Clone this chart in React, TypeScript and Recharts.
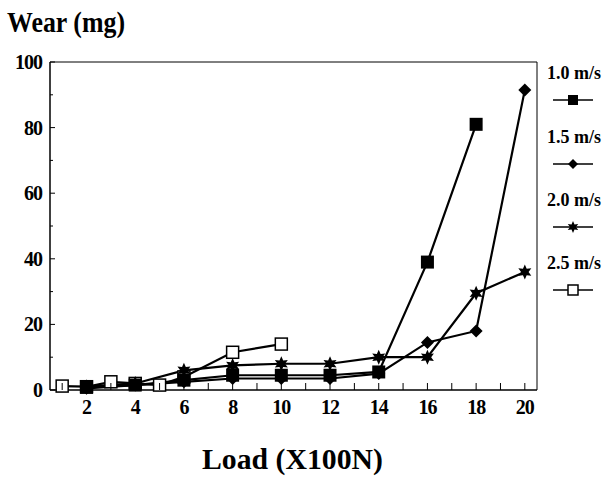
import React from 'react';
import { LineChart, Line, XAxis, YAxis, ReferenceLine } from 'recharts';

const speeds = ['1.0 m/s', '1.5 m/s', '2.0 m/s', '2.5 m/s'];
const loads = [2, 4, 6, 8, 10, 12, 14, 16, 18, 20];
const wear10 = [0.8, 1.5, 3, 4.5, 4.5, 4.5, 5.5, 39, 81];
const wear15 = [0.5, 1.5, 2.5, 3.5, 3.5, 3.5, 5, 14.5, 18, 91.5];
const wear20 = [1, 2, 6, 7.5, 8, 8, 10, 10, 29.5, 36];
const loads25 = [1, 2, 3, 4, 5, 6, 8, 10];
const wear25 = [1.2, 1, 2.5, 2, 1.5, 4, 11.5, 14];
const xTicks = [1, 2, 3, 4, 5, 6, 7, 8, 9, 10, 11, 12, 13, 14, 15, 16, 17, 18, 19, 20];
const xLabels = [2, 4, 6, 8, 10, 12, 14, 16, 18, 20];
const yTicks = [0, 10, 20, 30, 40, 50, 60, 70, 80, 90, 100];
const yLabels = [0, 20, 40, 60, 80, 100];

const toRows = (xs: number[], ys: number[]) => ys.map((y, i) => ({ load: xs[i], wear: y }));

const FONT = "'Liberation Serif', 'Times New Roman', 'DejaVu Serif', serif";

const FilledSquare = ({ cx, cy, s = 6.5 }: any) => (
  <rect x={cx - s} y={cy - s} width={2 * s} height={2 * s} fill="#000" />
);
const Diamond = ({ cx, cy, s = 6.5 }: any) => (
  <polygon points={`${cx},${cy - s} ${cx + s},${cy} ${cx},${cy + s} ${cx - s},${cy}`} fill="#000" />
);
const Star = ({ cx, cy, s = 7.5 }: any) => {
  const pts: string[] = [];
  for (let i = 0; i < 12; i++) {
    const r = i % 2 === 0 ? s : s * 0.5;
    const a = (Math.PI / 6) * i - Math.PI / 2;
    pts.push(`${cx + r * Math.cos(a)},${cy + r * Math.sin(a)}`);
  }
  return <polygon points={pts.join(' ')} fill="#000" />;
};
const OpenSquare = ({ cx, cy, s = 6 }: any) => (
  <rect x={cx - s} y={cy - s} width={2 * s} height={2 * s} fill="#fff" stroke="#000" strokeWidth={1.5} />
);

const markers = [FilledSquare, Diamond, Star, OpenSquare];

const dotFor = (M: any) => (p: any) => <M key={`d-${p.index}`} cx={p.cx} cy={p.cy} />;

const XTick = (props: any) => {
  const { x, y, payload } = props;
  const v = payload.value;
  return (
    <g>
      <line x1={x} y1={y} x2={x} y2={y - 7} stroke="#000" strokeWidth={1} />
      {xLabels.includes(v) && (
        <text x={x} y={y + 24} textAnchor="middle" fontFamily={FONT} fontWeight="bold" fontSize={20} fill="#000" letterSpacing={-1}>
          {v}
        </text>
      )}
    </g>
  );
};

const YTick = (props: any) => {
  const { x, y, payload } = props;
  const v = payload.value;
  const major = yLabels.includes(v);
  return (
    <g>
      <line x1={x} y1={y} x2={x + (major ? 5 : 3)} y2={y} stroke="#000" strokeWidth={1} />
      {major && (
        <text x={x - 8} y={y + 7} textAnchor="end" fontFamily={FONT} fontWeight="bold" fontSize={20} fill="#000" letterSpacing={-1}>
          {v}
        </text>
      )}
    </g>
  );
};

const legendTextY = [79, 143, 206, 269];
const legendMarkY = [100, 164, 227, 290];

export default function App() {
  return (
    <div style={{ position: 'absolute', left: 0, top: 0, width: 608, height: 483, background: '#fff' }}>
      <LineChart
        width={608}
        height={483}
        margin={{ top: 62, right: 71, left: 0, bottom: 0 }}
      >
        <XAxis
          type="number"
          dataKey="load"
          domain={[0.5, 20.5]}
          ticks={xTicks}
          interval={0}
          allowDataOverflow
          height={93}
          tickSize={0}
          tickMargin={0}
          tickLine={false}
          axisLine={{ stroke: '#000', strokeWidth: 1.5 }}
          tick={<XTick />}
        />
        <YAxis
          type="number"
          dataKey="wear"
          domain={[0, 100]}
          ticks={yTicks}
          interval={0}
          width={50}
          tickSize={0}
          tickMargin={0}
          tickLine={false}
          axisLine={{ stroke: '#000', strokeWidth: 1.5 }}
          tick={<YTick />}
        />
        <ReferenceLine y={100} stroke="#000" strokeWidth={1} />
        <ReferenceLine x={20.5} stroke="#000" strokeWidth={1} />
        <Line data={toRows(loads25, wear25)} dataKey="wear" name={speeds[3]} stroke="#000" strokeWidth={2.2} dot={dotFor(OpenSquare)} isAnimationActive={false} />
        <Line data={toRows(loads, wear20)} dataKey="wear" name={speeds[2]} stroke="#000" strokeWidth={2.2} dot={dotFor(Star)} isAnimationActive={false} />
        <Line data={toRows(loads, wear15)} dataKey="wear" name={speeds[1]} stroke="#000" strokeWidth={2.2} dot={dotFor(Diamond)} isAnimationActive={false} />
        <Line data={toRows(loads, wear10)} dataKey="wear" name={speeds[0]} stroke="#000" strokeWidth={2.2} dot={dotFor(FilledSquare)} isAnimationActive={false} />
      </LineChart>
      <svg width={608} height={483} style={{ position: 'absolute', left: 0, top: 0, pointerEvents: 'none' }}>
        <text x={7} y={32} fontFamily={FONT} fontWeight="bold" fontSize={29} fill="#000" textLength={118} lengthAdjust="spacingAndGlyphs">
          Wear (mg)
        </text>
        <text x={202} y={469} fontFamily={FONT} fontWeight="bold" fontSize={30} fill="#000" textLength={181} lengthAdjust="spacingAndGlyphs">
          Load (X100N)
        </text>
        {speeds.map((s, i) => {
          const M = markers[i];
          return (
            <g key={s}>
              <text x={547} y={legendTextY[i]} fontFamily={FONT} fontWeight="bold" fontSize={18} fill="#000" textLength={54} lengthAdjust="spacingAndGlyphs">
                {s}
              </text>
              <line x1={553} y1={legendMarkY[i]} x2={593} y2={legendMarkY[i]} stroke="#000" strokeWidth={1.5} />
              <M cx={573} cy={legendMarkY[i]} s={i === 2 ? 6 : 5} />
            </g>
          );
        })}
      </svg>
    </div>
  );
}
